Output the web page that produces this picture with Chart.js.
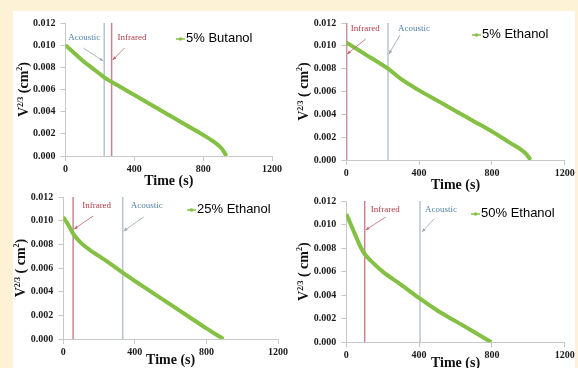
<!DOCTYPE html>
<html>
<head>
<meta charset="utf-8">
<script src="https://cdn.jsdelivr.net/npm/chart.js@4.4.0/dist/chart.umd.min.js"></script>
<style>
    html, body { margin: 0; padding: 0; }
    body { width: 578px; height: 368px; background: #fdf2d6; position: relative; overflow: hidden; }
    #sheet { position: absolute; left: 13px; top: 11px; width: 562px; height: 357px; background: #fff; }
    canvas { position: absolute; }
</style>
</head>
<body>
<div id="sheet"></div>
<canvas id="panel-butanol5"></canvas>
<canvas id="panel-ethanol5"></canvas>
<canvas id="panel-ethanol25"></canvas>
<canvas id="panel-ethanol50"></canvas>
<script>
// Axis ticks shared by all four panels
const timeTicks = [0, 400, 800, 1200];
const volumeTicks = [0, 0.002, 0.004, 0.006, 0.008, 0.010, 0.012];

// Droplet V^(2/3) against time for each fuel blend
const butanol5Time = [0, 50, 100, 150, 200, 225, 300, 400, 500, 600, 700, 800, 860, 900, 920, 935];
const butanol5Vol = [0.0100, 0.0093, 0.0086, 0.0080, 0.0074, 0.0071, 0.0064, 0.0055, 0.0046, 0.0037, 0.0028, 0.0019, 0.0013, 0.0008, 0.0004, 0.0000];

const ethanol5Time = [0, 50, 100, 229, 300, 400, 500, 600, 700, 800, 900, 960, 990, 1013];
const ethanol5Vol = [0.0103, 0.0098, 0.0093, 0.0080, 0.0071, 0.0061, 0.0052, 0.0043, 0.0034, 0.0025, 0.0015, 0.0009, 0.0005, 0.0000];

const ethanol25Time = [0, 30, 55, 100, 150, 200, 250, 332, 400, 500, 600, 700, 800, 895];
const ethanol25Vol = [0.0103, 0.0096, 0.0089, 0.0081, 0.0075, 0.0070, 0.0065, 0.0056, 0.0049, 0.0039, 0.0029, 0.0019, 0.0009, 0.0000];

const ethanol50Time = [0, 25, 50, 75, 101, 150, 200, 300, 405, 500, 600, 700, 797];
const ethanol50Vol = [0.0109, 0.0100, 0.0091, 0.0082, 0.0075, 0.0067, 0.0060, 0.0049, 0.0037, 0.0027, 0.0018, 0.0009, 0.0000];

// Times at which each detection method flags the event
const acousticTimes = [225, 229, 332, 405];
const infraredTimes = [268, 2, 55, 101];
const blendLabels = ['5% Butanol', '5% Ethanol', '25% Ethanol', '50% Ethanol'];

const SERIF = "'Liberation Serif', 'Times New Roman', serif";
const SANS = "'Liberation Sans', Arial, sans-serif";
const CURVE_GREEN = '#84c043';
const ACOUSTIC_LINE = '#b7c4ce';
const INFRARED_LINE = '#c9848e';
const ACOUSTIC_TEXT = '#4f7fa8';
const INFRARED_TEXT = '#b03a48';
const AXIS_GREY = '#c8c8c8';

Chart.defaults.font.family = SERIF;

function drawArrow(ctx, x0, y0, x1, y1, color) {
    ctx.save();
    ctx.strokeStyle = color;
    ctx.fillStyle = color;
    ctx.lineWidth = 0.8;
    ctx.beginPath();
    ctx.moveTo(x0, y0);
    ctx.lineTo(x1, y1);
    ctx.stroke();
    const a = Math.atan2(y1 - y0, x1 - x0);
    ctx.beginPath();
    ctx.moveTo(x1, y1);
    ctx.lineTo(x1 - 4 * Math.cos(a - 0.4), y1 - 4 * Math.sin(a - 0.4));
    ctx.lineTo(x1 - 4 * Math.cos(a + 0.4), y1 - 4 * Math.sin(a + 0.4));
    ctx.closePath();
    ctx.fill();
    ctx.restore();
}

// Rotated axis title with superscripts: V^(2/3) (cm^2)
function drawVolumeTitle(ctx, cx, cy, spaced) {
    const parts = [
        ['V', 14, 0],
        ['2/3', 8, -5],
        [spaced ? ' ( cm' : ' (cm', 14, 0],
        ['2', 8, -6],
        [')', 14, 0]
    ];
    ctx.save();
    ctx.translate(cx, cy);
    ctx.rotate(-Math.PI / 2);
    ctx.fillStyle = '#111';
    ctx.textBaseline = 'alphabetic';
    let total = 0;
    parts.forEach(p => {
        ctx.font = 'bold ' + p[1] + 'px ' + SERIF;
        total += ctx.measureText(p[0]).width;
    });
    let x = -total / 2;
    parts.forEach(p => {
        ctx.font = 'bold ' + p[1] + 'px ' + SERIF;
        ctx.fillText(p[0], x, 5 + p[2]);
        x += ctx.measureText(p[0]).width;
    });
    ctx.restore();
}

function decorPlugin(style) {
    return {
        id: 'panelDecor',
        afterDatasetsDraw(chart) {
            const ctx = chart.ctx;
            const area = chart.chartArea;
            const xs = chart.scales.x;

            // event markers: label plus arrow pointing at the vertical line
            style.markers.forEach(m => {
                const ds = chart.data.datasets.find(d => d.label === m.name);
                const lx = xs.getPixelForValue(ds.data[0].x);
                const isAcoustic = m.name === 'Acoustic';
                ctx.save();
                ctx.font = '9px ' + SERIF;
                ctx.fillStyle = isAcoustic ? ACOUSTIC_TEXT : INFRARED_TEXT;
                ctx.textBaseline = 'middle';
                ctx.textAlign = m.tx < 0 ? 'right' : 'left';
                ctx.fillText(m.name, lx + m.tx, area.top + m.ty);
                ctx.restore();
                drawArrow(ctx, lx + m.a[0], area.top + m.a[1], lx + m.a[2], area.top + m.a[3],
                    isAcoustic ? '#9aa4ac' : '#c0606e');
            });

            // series key: short line with a dot, then the blend name
            const kx = area.left + style.key[0];
            const ky = area.top + style.key[1];
            ctx.save();
            ctx.strokeStyle = CURVE_GREEN;
            ctx.fillStyle = CURVE_GREEN;
            ctx.lineWidth = 1.5;
            ctx.beginPath();
            ctx.moveTo(kx, ky + 1);
            ctx.lineTo(kx + 9, ky + 1);
            ctx.stroke();
            ctx.beginPath();
            ctx.arc(kx + 4.5, ky + 1, 1.8, 0, Math.PI * 2);
            ctx.fill();
            ctx.font = '13px ' + SANS;
            ctx.fillStyle = '#000';
            ctx.textBaseline = 'middle';
            ctx.fillText(chart.data.datasets[0].label, kx + 10, ky);
            ctx.restore();

            drawVolumeTitle(ctx, area.left - 43, (area.top + area.bottom) / 2, style.spaced);
        }
    };
}

function buildPanel(id, box, area, time, vol, acoustic, infrared, label, style) {
    const canvas = document.getElementById(id);
    canvas.width = box.w;
    canvas.height = box.h;
    canvas.style.left = box.x + 'px';
    canvas.style.top = box.y + 'px';

    return new Chart(canvas.getContext('2d'), {
        type: 'line',
        data: {
            datasets: [{
                label: label,
                data: time.map((t, i) => ({ x: t, y: vol[i] })),
                borderColor: CURVE_GREEN,
                borderWidth: 4,
                pointRadius: 0,
                cubicInterpolationMode: 'monotone',
                order: 0
            }, {
                label: 'Acoustic',
                data: [{ x: acoustic, y: 0 }, { x: acoustic, y: 0.012 }],
                borderColor: ACOUSTIC_LINE,
                borderWidth: 1.5,
                pointRadius: 0,
                order: 1
            }, {
                label: 'Infrared',
                data: [{ x: infrared, y: 0 }, { x: infrared, y: 0.012 }],
                borderColor: INFRARED_LINE,
                borderWidth: 1.5,
                pointRadius: 0,
                order: 1
            }]
        },
        options: {
            responsive: false,
            animation: false,
            layout: {
                padding: { left: 0, bottom: 0, top: area.top - box.y, right: box.x + box.w - area.right }
            },
            plugins: {
                legend: { display: false },
                tooltip: { enabled: false }
            },
            scales: {
                x: {
                    type: 'linear',
                    min: 0,
                    max: 1200,
                    afterBuildTicks: s => { s.ticks = timeTicks.map(v => ({ value: v })); },
                    afterFit: s => { s.height = box.y + box.h - area.bottom; },
                    grid: { drawOnChartArea: false, tickLength: 5, color: AXIS_GREY },
                    border: { color: AXIS_GREY, width: 1 },
                    ticks: {
                        font: { size: 10, weight: 'bold' },
                        color: '#1a1a1a',
                        padding: 2,
                        maxRotation: 0,
                        callback: v => String(v)
                    },
                    title: {
                        display: true,
                        text: 'Time (s)',
                        font: { size: 14, weight: 'bold', lineHeight: 1.2 },
                        color: '#111',
                        padding: 0
                    }
                },
                y: {
                    type: 'linear',
                    min: 0,
                    max: 0.012,
                    afterBuildTicks: s => { s.ticks = volumeTicks.map(v => ({ value: v })); },
                    afterFit: s => { s.width = area.left - box.x; },
                    grid: { drawOnChartArea: false, tickLength: 5, color: AXIS_GREY },
                    border: { color: AXIS_GREY, width: 1 },
                    ticks: {
                        font: { size: 10, weight: 'bold' },
                        color: '#1a1a1a',
                        padding: 5,
                        callback: v => v.toFixed(3)
                    }
                }
            }
        },
        plugins: [decorPlugin(style)]
    });
}

buildPanel('panel-butanol5',
    { x: 13, y: 12, w: 277, h: 178 },
    { left: 65.5, top: 16.7, right: 272, bottom: 156 },
    butanol5Time, butanol5Vol, acousticTimes[0], infraredTimes[0], blendLabels[0], {
        spaced: false,
        key: [110.5, 15],
        markers: [
            { name: 'Acoustic', tx: -4, ty: 15, a: [-21, 25, -1, 38] },
            { name: 'Infrared', tx: 6, ty: 15, a: [13, 25, 1, 37] }
        ]
    });

buildPanel('panel-ethanol5',
    { x: 292, y: 12, w: 286, h: 182 },
    { left: 346.3, top: 15.7, right: 564.7, bottom: 160 },
    ethanol5Time, ethanol5Vol, acousticTimes[1], infraredTimes[1], blendLabels[1], {
        spaced: true,
        key: [125.7, 11],
        markers: [
            { name: 'Infrared', tx: 4, ty: 6, a: [19, 16, 0.5, 31] },
            { name: 'Acoustic', tx: 10, ty: 6, a: [12, 12, 1, 31] }
        ]
    });

buildPanel('panel-ethanol25',
    { x: 13, y: 186, w: 277, h: 183 },
    { left: 63.3, top: 194.7, right: 282.7, bottom: 339 },
    ethanol25Time, ethanol25Vol, acousticTimes[2], infraredTimes[2], blendLabels[2], {
        spaced: true,
        key: [123.7, 12],
        markers: [
            { name: 'Infrared', tx: 9, ty: 9, a: [20, 19, 1, 32] },
            { name: 'Acoustic', tx: 8, ty: 9, a: [21, 20, 1, 34] }
        ]
    });

buildPanel('panel-ethanol50',
    { x: 292, y: 190, w: 286, h: 182 },
    { left: 346.3, top: 198, right: 564.7, bottom: 342.3 },
    ethanol50Time, ethanol50Vol, acousticTimes[3], infraredTimes[3], blendLabels[3], {
        spaced: true,
        key: [124.7, 12],
        markers: [
            { name: 'Infrared', tx: 6, ty: 9, a: [21, 16, 1, 29] },
            { name: 'Acoustic', tx: 5, ty: 9, a: [14, 18, 2, 31] }
        ]
    });
</script>
</body>
</html>
